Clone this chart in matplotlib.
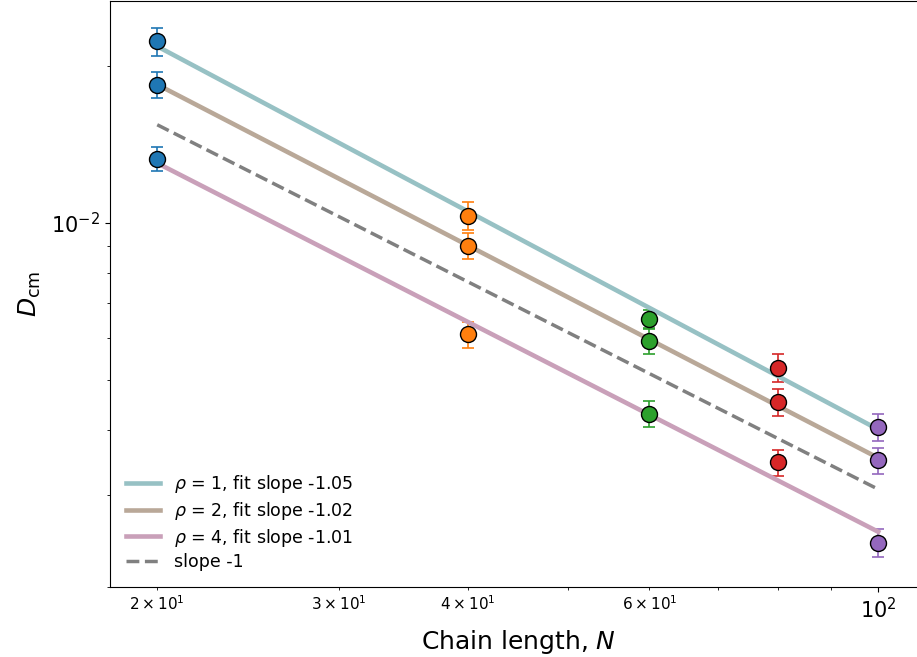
import numpy as np
import matplotlib
matplotlib.use("Agg")
import matplotlib.pyplot as plt

# chain lengths and centre-of-mass diffusion coefficients
chain_length = [20, 40, 60, 80, 100]
rho_values = [1, 2, 4]
d_rho1 = [0.02225, 0.01031, 0.00652, 0.00527, 0.00405]
d_rho2 = [0.01839, 0.00903, 0.00594, 0.00452, 0.00350]
d_rho4 = [0.01325, 0.00610, 0.00430, 0.00347, 0.00243]
err_rho1 = [0.00137, 0.00063, 0.00028, 0.00032, 0.00024]
err_rho2 = [0.00108, 0.00053, 0.00035, 0.00027, 0.00020]
err_rho4 = [0.00072, 0.00035, 0.00025, 0.00020, 0.00015]
ref_amplitude = 0.308  # D = A / N guide line

fit_colors = ["#97c1c4", "#b9a898", "#c9a0b9"]
point_colors = ["tab:blue", "tab:orange", "tab:green", "tab:red", "tab:purple"]

fig = plt.figure(figsize=(9.17, 6.57), dpi=100)
ax = fig.add_axes([0.12, 0.1065, 0.89, 0.892])

N = np.array(chain_length, dtype=float)
series = [d_rho1, d_rho2, d_rho4]
errors = [err_rho1, err_rho2, err_rho4]

for rho, d, err, col in zip(rho_values, series, errors, fit_colors):
    d = np.array(d)
    # error bars and markers, coloured by chain length
    for i in range(len(N)):
        ax.errorbar(N[i], d[i], yerr=err[i], fmt="none", ecolor=point_colors[i],
                    elinewidth=1.2, capsize=4.5, capthick=1.2, zorder=2)
        ax.plot(N[i], d[i], "o", color=point_colors[i], markersize=11.5,
                markeredgecolor="black", markeredgewidth=1.0, zorder=4)
    slope, intercept = np.polyfit(np.log10(N), np.log10(d), 1)
    ax.plot(N, 10 ** (intercept + slope * np.log10(N)), color=col, lw=3.3,
            zorder=3, label=rf"$\rho$ = {rho}, fit slope {slope:.2f}")

ax.plot(N, ref_amplitude / N, "--", color="gray", lw=2.5, zorder=3,
        label="slope -1")

ax.set_xscale("log")
ax.set_yscale("log")
ax.set_xlim(18, 111.3)
ax.set_ylim(0.002, 0.0266)

ax.tick_params(axis="both", which="major", labelsize=15)
ax.tick_params(axis="both", which="minor", labelsize=11)

ax.set_xlabel(r"Chain length, $N$", fontsize=18)
ax.set_ylabel(r"$D_{\mathrm{cm}}$", fontsize=18, labelpad=6)

ax.legend(loc="lower left", frameon=False, fontsize=12.5, labelspacing=0.28)

fig.savefig("out.png", dpi=100)
